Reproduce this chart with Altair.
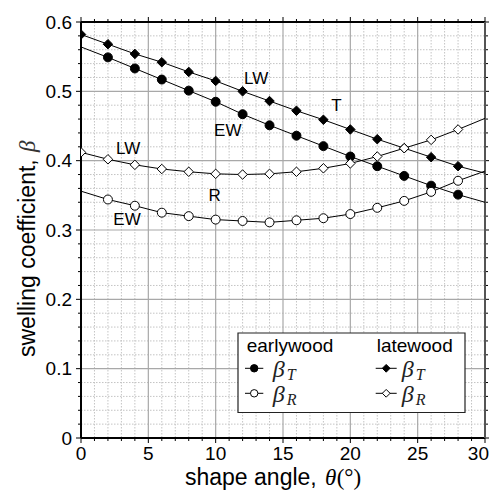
import altair as alt
import pandas as pd

# ---------------- data ----------------
theta = [0, 2, 4, 6, 8, 10, 12, 14, 16, 18, 20, 22, 24, 26, 28, 30]
ew_T = [0.564, 0.549, 0.533, 0.517, 0.501, 0.485, 0.467, 0.451, 0.436, 0.421, 0.406, 0.392, 0.378, 0.364, 0.351, 0.340]
lw_T = [0.582, 0.568, 0.554, 0.542, 0.528, 0.515, 0.500, 0.486, 0.472, 0.459, 0.445, 0.431, 0.418, 0.405, 0.392, 0.382]
ew_R = [0.356, 0.344, 0.335, 0.325, 0.320, 0.315, 0.313, 0.311, 0.314, 0.317, 0.323, 0.332, 0.342, 0.355, 0.371, 0.385]
lw_R = [0.412, 0.402, 0.394, 0.388, 0.384, 0.381, 0.380, 0.381, 0.384, 0.389, 0.396, 0.406, 0.418, 0.430, 0.445, 0.461]
ew_marker_theta = [2, 4, 6, 8, 10, 12, 14, 16, 18, 20, 22, 24, 26, 28]
lw_marker_theta = [0, 2, 4, 6, 8, 10, 12, 14, 16, 18, 20, 22, 24, 26, 28]

x_major = [0, 5, 10, 15, 20, 25, 30]
x_labels = ["0", "5", "10", "15", "20", "25", "30"]
y_major = [0, 0.1, 0.2, 0.3, 0.4, 0.5, 0.6]
y_labels = ["0", "0.1", "0.2", "0.3", "0.4", "0.5", "0.6"]
x_minor = [i for i in range(0, 31) if i % 5 != 0]
y_minor = [round(i * 0.02, 2) for i in range(31) if i % 5 != 0]

ann_labels = ["LW", "EW", "T", "LW", "R", "EW"]
ann_x = [13.0, 10.9, 18.96, 3.5, 9.93, 3.42]
ann_y = [0.511, 0.436, 0.471, 0.409, 0.3416, 0.3065]

# ---------------- frames ----------------
rows = []
for name, vals in [("ewT", ew_T), ("lwT", lw_T), ("ewR", ew_R), ("lwR", lw_R)]:
    for t, v in zip(theta, vals):
        rows.append({"theta": t, "beta": v, "series": name})
lines_df = pd.DataFrame(rows)
mk = lines_df[((lines_df.series.str.startswith("ew")) & lines_df.theta.isin(ew_marker_theta)) |
              ((lines_df.series.str.startswith("lw")) & lines_df.theta.isin(lw_marker_theta))]

W, H = 404, 416
xsc = alt.Scale(domain=[0, 30], nice=False, zero=False)
ysc = alt.Scale(domain=[0, 0.6], nice=False, zero=False)

def X(f):
    return alt.X(f, type="quantitative", scale=xsc, axis=None)

def Y(f):
    return alt.Y(f, type="quantitative", scale=ysc, axis=None)

xmin_df = pd.DataFrame({"v": x_minor})
ymin_df = pd.DataFrame({"v": y_minor})
xmaj_df = pd.DataFrame({"v": x_major, "lab": x_labels})
ymaj_df = pd.DataFrame({"v": y_major, "lab": y_labels})
ann_df = pd.DataFrame({"x": ann_x, "y": ann_y, "lab": ann_labels})

layers = []
# minor grid
layers.append(alt.Chart(xmin_df).mark_rule(color="#c4c4c4", strokeWidth=1, strokeDash=[1.5, 1.5]).encode(
    x=X("v"), y=alt.value(0), y2=alt.value(H)))
layers.append(alt.Chart(ymin_df).mark_rule(color="#c4c4c4", strokeWidth=1, strokeDash=[1.5, 1.5]).encode(
    y=Y("v"), x=alt.value(0), x2=alt.value(W)))
# major grid
layers.append(alt.Chart(xmaj_df).mark_rule(color="#a8a8a8", strokeWidth=1.2).encode(
    x=X("v"), y=alt.value(0), y2=alt.value(H)))
layers.append(alt.Chart(ymaj_df).mark_rule(color="#a8a8a8", strokeWidth=1.2).encode(
    y=Y("v"), x=alt.value(0), x2=alt.value(W)))
# ticks (outward, all four sides)
for df, ln in [(xmin_df, 3), (xmaj_df, 5)]:
    layers.append(alt.Chart(df).mark_rule(color="black", strokeWidth=1).encode(
        x=X("v"), y=alt.value(H), y2=alt.value(H + ln)))
    layers.append(alt.Chart(df).mark_rule(color="black", strokeWidth=1).encode(
        x=X("v"), y=alt.value(0), y2=alt.value(-ln)))
for df, ln in [(ymin_df, 3), (ymaj_df, 5)]:
    layers.append(alt.Chart(df).mark_rule(color="black", strokeWidth=1).encode(
        y=Y("v"), x=alt.value(0), x2=alt.value(-ln)))
    layers.append(alt.Chart(df).mark_rule(color="black", strokeWidth=1).encode(
        y=Y("v"), x=alt.value(W), x2=alt.value(W + ln)))
# frame
layers.append(alt.Chart(xmaj_df).mark_rule(color="black", strokeWidth=1.2).encode(
    x=alt.value(0), x2=alt.value(W), y=alt.value(H)))
layers.append(alt.Chart(xmaj_df).mark_rule(color="black", strokeWidth=1.2).encode(
    x=alt.value(0), x2=alt.value(W), y=alt.value(0)))
layers.append(alt.Chart(xmaj_df).mark_rule(color="black", strokeWidth=1.2).encode(
    x=alt.value(0), y=alt.value(0), y2=alt.value(H)))
layers.append(alt.Chart(xmaj_df).mark_rule(color="#555555", strokeWidth=1.6).encode(
    x=alt.value(W), y=alt.value(0), y2=alt.value(H)))

# tick labels
layers.append(alt.Chart(xmaj_df).transform_filter(alt.datum.v < 30).mark_text(
    font="Liberation Sans", fontSize=19, align="center", baseline="alphabetic", color="black").encode(
    x=X("v"), y=alt.value(H + 22), text="lab:N"))
layers.append(alt.Chart(xmaj_df).transform_filter(alt.datum.v >= 30).mark_text(
    font="Liberation Sans", fontSize=19, align="right", baseline="alphabetic", color="black").encode(
    x=alt.value(W + 4), y=alt.value(H + 22), text="lab:N"))
layers.append(alt.Chart(ymaj_df).mark_text(font="Liberation Sans", fontSize=19, align="right",
                                           baseline="alphabetic", dy=6.8, color="black").encode(
    y=Y("v"), x=alt.value(-9), text="lab:N"))

# data lines
layers.append(alt.Chart(lines_df).mark_line(color="black", strokeWidth=1, clip=True).encode(
    x=X("theta"), y=Y("beta"), detail="series:N"))
# markers
marker_styles = {
    "ewT": dict(shape="circle", size=80, fill="black"),
    "ewR": dict(shape="circle", size=80, fill="white"),
    "lwT": dict(shape="diamond", size=90, fill="black"),
    "lwR": dict(shape="diamond", size=90, fill="white"),
}
for s, st in marker_styles.items():
    layers.append(alt.Chart(mk).transform_filter(alt.datum.series == s).mark_point(
        shape=st["shape"], size=st["size"], filled=True, fill=st["fill"], stroke="black",
        strokeWidth=1, opacity=1, clip=True).encode(x=X("theta"), y=Y("beta")))

# annotations
layers.append(alt.Chart(ann_df).mark_text(font="Liberation Sans", fontSize=17, align="center",
                                          baseline="alphabetic", color="black").encode(
    x=X("x"), y=Y("y"), text="lab:N"))

# legend box
leg = pd.DataFrame({"a": [0]})
layers.append(alt.Chart(leg).mark_rect(fill="white", stroke="#222222", strokeWidth=1.2).encode(
    x=alt.value(157), x2=alt.value(384), y=alt.value(311), y2=alt.value(390.5)))
for txt, xx in [("earlywood", 165.7), ("latewood", 295.7)]:
    layers.append(alt.Chart(leg).mark_text(font="Liberation Sans", fontSize=19, align="left",
                                           baseline="alphabetic", color="black").encode(
        x=alt.value(xx), y=alt.value(330.3), text=alt.value(txt)))
leg_rows = [
    (164, 182.3, 173.2, 191.7, 346.3, "circle", "black", "T"),
    (164, 182.3, 173.2, 191.7, 371.3, "circle", "white", "R"),
    (294.7, 315.7, 305.2, 320.7, 346.3, "diamond", "black", "T"),
    (294.7, 315.7, 305.2, 320.7, 371.3, "diamond", "white", "R"),
]
for x1, x2, xm, xt, yy, shp, fl, sub in leg_rows:
    layers.append(alt.Chart(leg).mark_rule(color="black", strokeWidth=1).encode(
        x=alt.value(x1), x2=alt.value(x2), y=alt.value(yy)))
    layers.append(alt.Chart(leg).mark_point(shape=shp, size=55 if shp == "circle" else 60, filled=True,
                                            fill=fl, stroke="black", strokeWidth=1, opacity=1).encode(
        x=alt.value(xm), y=alt.value(yy)))
    layers.append(alt.Chart(leg).mark_text(font="Liberation Serif", fontStyle="italic", fontSize=24,
                                           align="left", baseline="alphabetic", color="#222222").encode(
        x=alt.value(xt), y=alt.value(yy + 9), text=alt.value("β")))
    layers.append(alt.Chart(leg).mark_text(font="Liberation Serif", fontStyle="italic", fontSize=16,
                                           align="left", baseline="alphabetic", color="#222222").encode(
        x=alt.value(xt + 14), y=alt.value(yy + 12), text=alt.value(sub)))

# axis titles
layers.append(alt.Chart(leg).mark_text(font="Liberation Sans", fontSize=23, align="left",
                                       baseline="alphabetic", angle=270, color="black").encode(
    x=alt.value(-46.5), y=alt.value(335), text=alt.value("swelling coefficient,")))
layers.append(alt.Chart(leg).mark_text(font="Liberation Serif", fontStyle="italic", fontSize=23,
                                       align="left", baseline="alphabetic", angle=270, color="#333333").encode(
    x=alt.value(-46.5), y=alt.value(130), text=alt.value("β")))
layers.append(alt.Chart(leg).mark_text(font="Liberation Sans", fontSize=23, align="left",
                                       baseline="alphabetic", color="black").encode(
    x=alt.value(104), y=alt.value(463), text=alt.value("shape angle,")))
layers.append(alt.Chart(leg).mark_text(font="Liberation Serif", fontStyle="italic", fontSize=23,
                                       align="left", baseline="alphabetic", color="black").encode(
    x=alt.value(244), y=alt.value(463), text=alt.value("θ")))
layers.append(alt.Chart(leg).mark_text(font="Liberation Serif", fontSize=23,
                                       align="left", baseline="alphabetic", color="black").encode(
    x=alt.value(255.7), y=alt.value(463), text=alt.value("(°)")))

chart = alt.layer(*layers).properties(
    width=W, height=H,
    autosize=alt.AutoSizeParams(type="none"),
    padding={"left": 73, "top": 14, "right": 4, "bottom": 53},
).configure_view(stroke=None)

chart.save("out.html", embed_options={"renderer": "svg", "actions": False})
